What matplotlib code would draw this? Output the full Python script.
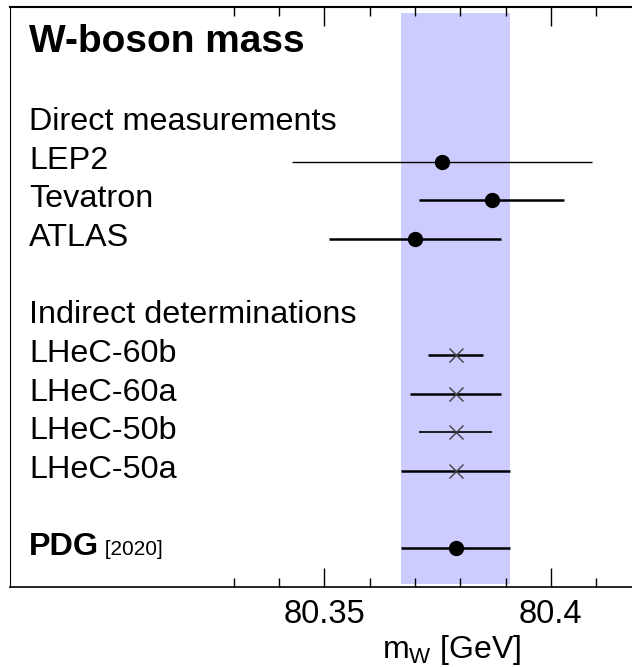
import matplotlib
matplotlib.use("Agg")
import matplotlib.pyplot as plt
import matplotlib.transforms as mtransforms
from matplotlib.ticker import FixedLocator, FuncFormatter

plt.rcParams["font.family"] = ["Liberation Sans", "DejaVu Sans"]
plt.rcParams["mathtext.fontset"] = "custom"
plt.rcParams["mathtext.rm"] = "Liberation Sans"

# W mass values in GeV, rows counted from the top
direct_labels = ["LEP2", "Tevatron", "ATLAS"]
direct_mass = [80.376, 80.387, 80.370]
direct_err = [0.033, 0.016, 0.019]
direct_rows = [0, 1, 2]
direct_lw = [1.0, 1.8, 1.8]

lhec_labels = ["LHeC-60b", "LHeC-60a", "LHeC-50b", "LHeC-50a"]
lhec_mass = [80.379, 80.379, 80.379, 80.379]
lhec_err = [0.006, 0.010, 0.008, 0.012]
lhec_rows = [5, 6, 7, 8]
lhec_lw = [1.8, 1.8, 1.2, 1.8]

pdg_mass = 80.379
pdg_err = 0.012
pdg_row = 10

major_ticks = [80.35, 80.40]
minor_ticks = [80.33, 80.34, 80.36, 80.37, 80.38, 80.39, 80.41]

fig = plt.figure(figsize=(6.32, 6.67), dpi=100)
ax = fig.add_axes([10 / 632, 80 / 667, 622 / 632, 580 / 667])

# PDG band
ax.axvspan(pdg_mass - pdg_err, pdg_mass + pdg_err, ymin=0.005, ymax=0.99,
           color="#ccccff", lw=0, zorder=0)

for m, e, r, lw in zip(direct_mass, direct_err, direct_rows, direct_lw):
    ax.errorbar(m, r, xerr=e, fmt="o", color="black", ms=10, elinewidth=lw,
                capsize=0, zorder=3)

for m, e, r, lw in zip(lhec_mass, lhec_err, lhec_rows, lhec_lw):
    ax.errorbar(m, r, xerr=e, fmt="none", ecolor="black", elinewidth=lw,
                capsize=0, zorder=3)
    ax.plot(m, r, marker="x", color="#404040", ms=10, mew=1.0, ls="none", zorder=4)

ax.errorbar(pdg_mass, pdg_row, xerr=pdg_err, fmt="o", color="black", ms=10,
            elinewidth=1.8, capsize=0, zorder=3)

# labels on the left
trans = mtransforms.blended_transform_factory(ax.transAxes, ax.transData)
lx = 19 / 622
off = 0.18
fs = 23.3
ax.text(lx, -2.84, "W-boson mass", transform=trans, fontsize=28,
        fontweight="bold", va="baseline")
ax.text(lx, -1 + off, "Direct measurements", transform=trans, fontsize=fs,
        va="baseline")
ax.text(lx, 4 + off, "Indirect determinations", transform=trans, fontsize=fs,
        va="baseline")
for lab, r in zip(direct_labels + lhec_labels, direct_rows + lhec_rows):
    ax.text(lx, r + off, lab, transform=trans, fontsize=fs, va="baseline")
t = ax.text(lx, pdg_row + off, "PDG", transform=trans, fontsize=fs,
            fontweight="bold", va="baseline")
ax.annotate(" [2020]", xycoords=(t, "data"), xy=(1, pdg_row + off), fontsize=15,
            va="baseline", ha="left", annotation_clip=False)

ax.set_xlim(80.2807, 80.4179)
ax.set_ylim(11, -4)

ax.xaxis.set_major_locator(FixedLocator(major_ticks))
ax.xaxis.set_minor_locator(FixedLocator(minor_ticks))
ax.xaxis.set_major_formatter(FuncFormatter(lambda v, p: "%g" % v))
ax.set_yticks([])
ax.tick_params(axis="x", which="both", direction="in", top=True, bottom=True,
               labelsize=23.5, pad=8.5)
ax.tick_params(axis="x", which="major", length=13.5, width=1.0)
ax.tick_params(axis="x", which="minor", length=6.5, width=1.0)

ax.spines["right"].set_visible(False)
ax.spines["top"].set_linewidth(1.5)
ax.spines["bottom"].set_linewidth(1.2)
ax.spines["left"].set_linewidth(0.8)

ax.set_xlabel(r"m$_{\rm W}$ [GeV]", fontsize=23)
ax.xaxis.set_label_coords(0.71, -0.08)

fig.savefig("out.png", dpi=100)
